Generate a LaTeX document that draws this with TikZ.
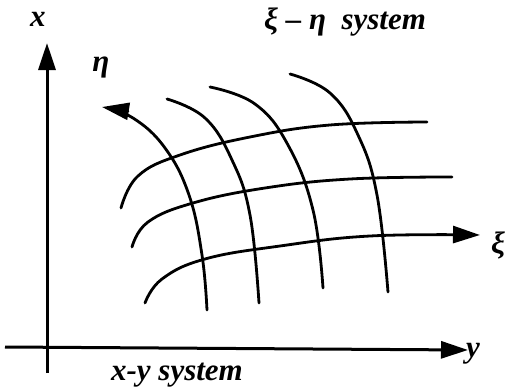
\documentclass[tikz,border=0pt]{standalone}
\usepackage{fontspec}
\setmainfont{Liberation Serif}
\usetikzlibrary{arrows.meta}
\tikzset{
  gridline/.style={line width=2.8pt, line cap=round},
  axisline/.style={line width=3pt},
  bigtip/.style={-{Triangle[length=27pt,width=17pt]}},
  lbl/.style={font=\fontsize{31}{34}\selectfont\bfseries\itshape, inner sep=0pt},
}
\begin{document}
\begin{tikzpicture}[x=1pt,y=-1pt]
\useasboundingbox (0,0) rectangle (507,389);
% axes
\coordinate (ox) at (47,373);
\coordinate (xt) at (47,43);
\coordinate (oy) at (5,347);
\coordinate (yt) at (468,350);
\draw[axisline,bigtip] (ox) -- (xt);
\draw[axisline,bigtip] (oy) -- (yt);
% eta curves
\draw[gridline,bigtip] plot[smooth,tension=0.7] coordinates {(207,310) (202,255) (189,195) (165,148) (133,118) (102,107)};
\draw[gridline] plot[smooth,tension=0.7] coordinates {(167,99) (205,118) (232,160) (250,215) (259,303)};
\draw[gridline] plot[smooth,tension=0.7] coordinates {(210,87) (255,104) (288,145) (313,210) (323,288)};
\draw[gridline] plot[smooth,tension=0.7] coordinates {(290,74) (330,93) (358,135) (377,195) (388,292)};
% xi curves
\draw[gridline] plot[smooth,tension=0.7] coordinates {(121,208) (138,176) (180,155) (250,137) (330,125) (427,122)};
\draw[gridline] plot[smooth,tension=0.7] coordinates {(132,247) (148,222) (193,203) (265,188) (350,179) (452,177)};
\draw[gridline,bigtip] plot[smooth,tension=0.7] coordinates {(145,303) (162,279) (205,259) (280,246) (370,236) (480,235)};
% labels
\node[lbl] (lx) at (38,19) {x};
\node[lbl] (ly) at (473,354) {y};
\node[lbl] (leta) at (101,68) {η};
\node[lbl] (lxi) at (498,245) {ξ};
\node[lbl] (lsys1) at (345,22) {ξ – η\ \ system};
\node[lbl] (lsys2) at (177,375) {x-y system};
\end{tikzpicture}
\end{document}
